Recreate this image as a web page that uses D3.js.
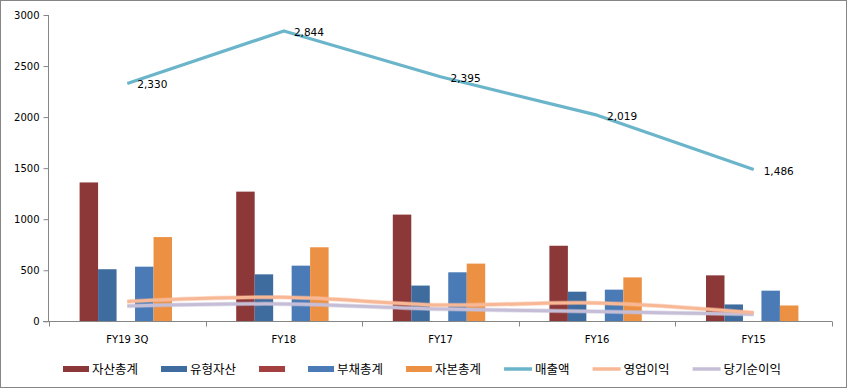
<!DOCTYPE html>
<html><head><meta charset="utf-8">
<script src="https://cdn.jsdelivr.net/npm/d3@7/dist/d3.min.js"></script>
<style>
html,body{margin:0;padding:0;background:#fff;}
svg{display:block;}
text{font-family:"DejaVu Sans",Verdana,sans-serif;}
.kr{font-family:"Noto Sans CJK KR","Noto Sans",sans-serif;}
</style></head>
<body>
<svg id="c" width="847" height="388"></svg>
<script>
const categories = ["FY19 3Q","FY18","FY17","FY16","FY15"];
const assets      = [1360, 1270, 1045, 740, 450];   // 자산총계
const tangible    = [510, 460, 350, 290, 165];      // 유형자산
const blankSeries = [null, null, null, null, null]; // (unnamed)
const liabilities = [535, 545, 480, 310, 300];      // 부채총계
const equity      = [825, 725, 565, 430, 155];      // 자본총계
const sales       = [2330, 2844, 2395, 2019, 1486]; // 매출액
const opIncome    = [195, 235, 160, 180, 85];       // 영업이익
const netIncome   = [150, 170, 120, 95, 70];        // 당기순이익
const yTicks = [0, 500, 1000, 1500, 2000, 2500, 3000];

const barSeries = [
  {name:"자산총계", values:assets, color:"#8C3838"},
  {name:"유형자산", values:tangible, color:"#3F6C9E"},
  {name:"", values:blankSeries, color:"#A33F3F"},
  {name:"부채총계", values:liabilities, color:"#4A7BB7"},
  {name:"자본총계", values:equity, color:"#EC9144"}
];
const lineSeries = [
  {name:"매출액", values:sales, color:"#6BB5CB", smooth:false, labels:true},
  {name:"영업이익", values:opIncome, color:"#F8B795", smooth:true},
  {name:"당기순이익", values:netIncome, color:"#C6BED6", smooth:true}
];

const svg = d3.select("#c");
const L = 49, R = 832, T = 15, B = 321.3;
const axisColor = "#868686";

svg.append("rect").attr("x",0.5).attr("y",0.5).attr("width",846).attr("height",387)
  .attr("fill","#fff").attr("stroke",axisColor).attr("stroke-width",1);

const x = d3.scaleBand().domain(categories).range([L, R]).padding(0);
const y = d3.scaleLinear().domain([0, 3000]).range([B, T]);
const groupW = x.bandwidth() * 0.59;
const xs = d3.scaleBand().domain(d3.range(barSeries.length)).range([0, groupW]).padding(0);
const groupOff = (x.bandwidth()-groupW)/2 - 1.5;

barSeries.forEach((s, si) => {
  svg.append("g").selectAll("rect").data(s.values.map((v,i)=>({v, c:categories[i]})).filter(d=>d.v!=null))
    .join("rect")
    .attr("x", d => x(d.c) + groupOff + xs(si))
    .attr("width", xs.bandwidth())
    .attr("y", d => y(d.v))
    .attr("height", d => y(0) - y(d.v))
    .attr("fill", s.color);
});

const yAxis = svg.append("g").attr("transform", `translate(${L - 0.5},0)`)
  .call(d3.axisLeft(y).tickValues(yTicks).tickSize(5).tickPadding(4).tickFormat(d3.format("d")));
yAxis.select(".domain").attr("stroke", axisColor).attr("d", `M0,${T}V${B}`);
yAxis.selectAll(".tick line").attr("stroke", axisColor);
yAxis.selectAll(".tick text").attr("fill","#000").attr("font-size","10px")
  .attr("font-family","DejaVu Sans");

const xg = svg.append("g").attr("transform", `translate(0,${Math.round(B)+0.5})`);
xg.append("line").attr("x1", L-6).attr("x2", R).attr("stroke", axisColor);
const bounds = categories.map(c => x(c)).concat([R]);
xg.selectAll("line.tk").data(bounds).join("line").attr("class","tk")
  .attr("x1", d=>Math.round(d)+0.5).attr("x2", d=>Math.round(d)+0.5).attr("y1",0).attr("y2",5)
  .attr("stroke", axisColor);
xg.selectAll("text").data(categories).join("text")
  .attr("x", d => x(d) + x.bandwidth()/2).attr("y", 21)
  .attr("text-anchor","middle").attr("font-size","10px").attr("fill","#000").text(d=>d);

const cx = c => x(c) + x.bandwidth()/2;
lineSeries.slice().reverse().forEach(s => {
  const pts = s.values.map((v,i)=>[cx(categories[i]), y(v)]);
  const gen = d3.line().curve(s.smooth ? d3.curveCardinal.tension(0) : d3.curveLinear);
  if (s.smooth) {
    svg.append("path").attr("d", gen(pts)).attr("fill","none")
      .attr("stroke", s.color).attr("stroke-width",4.5).attr("stroke-opacity",0.45);
    svg.append("path").attr("d", gen(pts)).attr("fill","none")
      .attr("stroke", s.color).attr("stroke-width",3);
  } else {
    svg.append("path").attr("d", gen(pts)).attr("fill","none")
      .attr("stroke", s.color).attr("stroke-width",3.2).attr("stroke-linejoin","round");
  }
  if (s.labels) {
    svg.append("g").selectAll("text").data(pts).join("text")
      .attr("x", d => d[0] + 10).attr("y", d => d[1] + 5)
      .attr("font-size","10.5px").attr("fill","#000")
      .text((d,i)=>d3.format(",")(s.values[i]));
  }
});

const leg = svg.append("g").attr("transform","translate(0,369)");
let lx = 63;
const items = barSeries.map(s=>({name:s.name,color:s.color,type:"bar"}))
  .concat(lineSeries.map(s=>({name:s.name,color:s.color,type:"line"})));
items.forEach(it => {
  if (it.type === "bar") {
    leg.append("rect").attr("x", lx).attr("y", -3).attr("width", 26).attr("height", 6).attr("fill", it.color);
  } else {
    leg.append("line").attr("x1", lx).attr("x2", lx+28).attr("y1",0).attr("y2",0)
      .attr("stroke", it.color).attr("stroke-width",3.5);
  }
  const tx = lx + (it.type==="bar" ? 29 : 31);
  const t = leg.append("text").attr("class","kr").attr("x", tx).attr("y", 4.5)
    .attr("font-size","12.5px").attr("fill","#000").text(it.name);
  const w = it.name ? t.node().getComputedTextLength() : -3;
  lx = tx + w + 23;
});
</script>
</body></html>
